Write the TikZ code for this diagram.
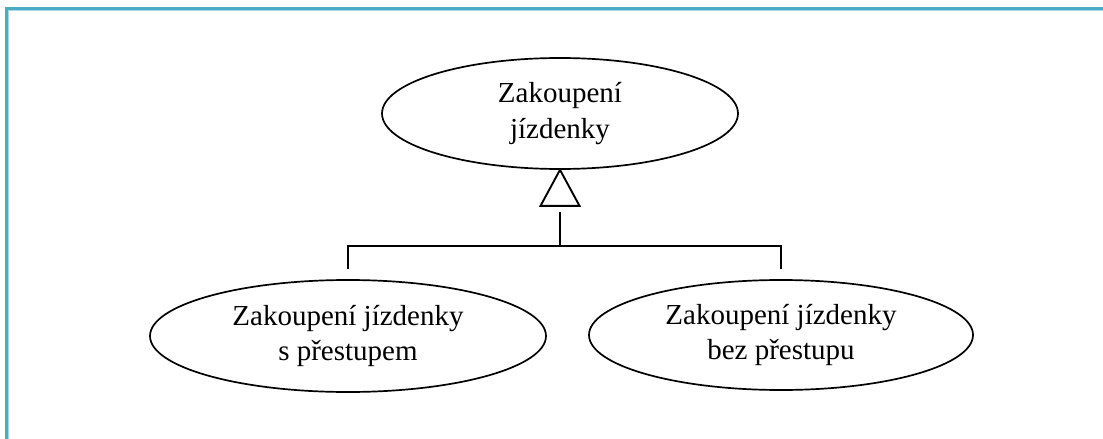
\documentclass[tikz,border=0pt]{standalone}
\usepackage{fontspec}
\setmainfont{Liberation Serif}
\usetikzlibrary{shapes.geometric}
\definecolor{framecol}{RGB}{75,172,198}
\definecolor{framelite}{RGB}{170,216,229}
\begin{document}
\begin{tikzpicture}[x=1pt,y=-1pt,
  usecase/.style={draw, ellipse, line width=1.7pt, inner sep=0pt, align=center,
    font=\fontsize{29}{35.5}\selectfont},
  link/.style={line width=1.9pt}]
\useasboundingbox (0,0) rectangle (1103,439);
\fill[white] (0,0) rectangle (1103,439);
% page frame (left and top edges)
\draw[framecol, line width=3pt] (6.5,450) -- (6.5,8.5) -- (1110,8.5);
\draw[framelite, line width=1pt] (8.6,450) -- (8.6,10.6) -- (1110,10.6);

% use cases
\node[usecase, minimum width=356pt, minimum height=111pt] (buy) at (560,113.5) {Zakoupení\\jízdenky};
\node[usecase, minimum width=396pt, minimum height=112pt] (with) at (348,336) {Zakoupení jízdenky\\s přestupem};
\node[usecase, minimum width=384pt, minimum height=110pt] (without) at (781,335) {Zakoupení jízdenky\\bez přestupu};

% generalization
\coordinate (apex) at (buy.south);
\coordinate (hub) at (560,246);
\coordinate (stem) at (560,212);
\coordinate (lj) at (with.north |- hub);
\coordinate (rj) at (without.north |- hub);
\coordinate (lend) at (348,269);
\coordinate (rend) at (781,269);
\draw[link, line join=miter] (apex) -- ++(-19.5,36) -- ++(39,0) -- cycle;
\draw[link] (stem) -- (hub);
\draw[link] (lend) -- (lj) -- (rj) -- (rend);
\end{tikzpicture}
\end{document}
